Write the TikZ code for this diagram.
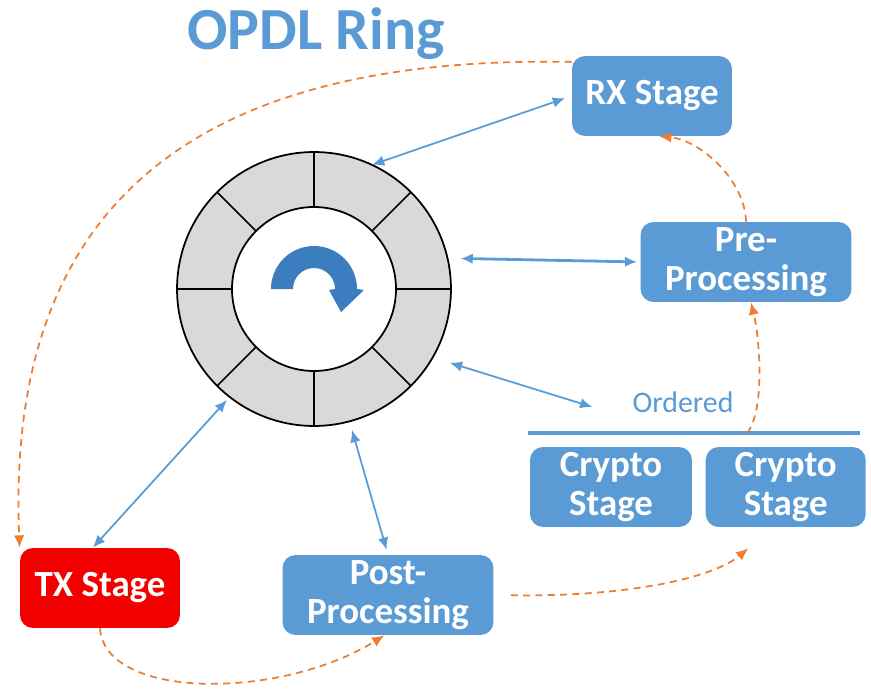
\documentclass[tikz,border=0pt]{standalone}
\usepackage{fontspec}
\setmainfont{Carlito}
\usetikzlibrary{calc}
\usetikzlibrary{arrows.meta,positioning}
\definecolor{opblue}{HTML}{5B9BD5}
\definecolor{opdark}{HTML}{3C7DBF}
\definecolor{oporange}{HTML}{ED7D31}
\definecolor{opred}{HTML}{F20000}
\definecolor{opgray}{HTML}{D9D9D9}

\begin{document}
\begin{tikzpicture}[>={Latex[length=7pt,width=6pt]}, x=0.02cm, y=-0.02cm]
        \tikzset{block/.style= {fill=opblue, rectangle, rounded corners=0.26cm, align=center, text=white,
                font=\fontsize{21}{22.5}\selectfont\bfseries, inner sep=0pt, minimum width=3.2cm, minimum height=1.6cm},
        wblock/.style={block, minimum width=4.22cm},
        rblock/.style={block, fill=opred},
        ringout/.style={draw, circle, fill=opgray, line width=1pt, minimum size=5.48cm, inner sep=0pt, outer sep=0pt},
        hub/.style={draw, circle, fill=white, line width=1pt, minimum size=3.28cm, inner sep=0pt, outer sep=0pt},
        int/.style={font=\fontsize{17}{17}\selectfont, text=opblue},
        link/.style={<->, color=opblue, line width=1pt},
        flow/.style={->, color=oporange, line width=1pt, dash pattern=on 4pt off 3pt},
        }
        \useasboundingbox (0,0) rectangle (871,692);
        \node [anchor=base, text=opblue, font=\fontsize{34}{34}\selectfont\bfseries] (title) at (316,50) {OPDL Ring};
        \node [ringout] (ring) at (314,289) {};
        \node [hub] (hub) at (ring) {};
        \foreach \a in {0,45,...,315}
            \draw [line width=1pt] (hub.\a) -- (ring.\a);
        % turning arrow in the hub
        \begin{scope}[shift={(ring.center)}, yscale=-1]
            \fill [opdark] (-43,0) arc [start angle=180, end angle=0, radius=43] -- (50,-1) -- (27,-23)
                -- (15,-1) -- (21,0) arc [start angle=0, end angle=180, radius=21] -- cycle;
        \end{scope}
        \node [block]  (rx) at (652,96) {RX Stage};
        \node [wblock] (pre) at (746,262) {Pre-\\Processing};
        \node [block, minimum width=3.24cm] (cr1) at (611,487) {Crypto\\Stage};
        \node [block, right=0.26cm of cr1] (cr2) {Crypto\\Stage};
        \node [int] (ord) at (683,402) {Ordered};
        \node [rblock] (tx) at (100,588) {TX Stage};
        \node [wblock] (post) at (388,595) {Post-\\Processing};
        \coordinate (barl) at (528,433);
        \coordinate (barr) at (860,433);
        \draw [opblue, line width=2.3pt] (barl) -- (barr);
%%% paths
        \path [link] (ring.65) edge [shorten >=0.14cm] (rx.west)
                    (ring.13) edge [line width=1.6pt, shorten <=0.26cm, shorten >=0.06cm] (pre.west)
                    (ring.-30) edge [shorten <=0.36cm] ([xshift=-0.68cm, yshift=-0.1cm]ord.west)
                    (ring.232) edge [shorten <=0.08cm] (tx.100)
                    (ring.285) edge [shorten <=0.18cm, shorten >=0.1cm] (post.north)
                    ;
        \draw [flow] (rx.157) .. controls (200,55) and (5,200) .. (tx.north west);
        \draw [flow] (tx.south) .. controls (105,700) and (280,700) .. (post.265);
        \draw [flow, shorten <=0.34cm] (post.east) .. controls (620,597) and (710,580) .. ([shift={(43,21)}]cr2.south west);
        \draw [flow] ($(barl)!0.66!(barr)$) .. controls (765,410) and (760,340) .. (pre.277);
        \draw [flow] (pre.north) .. controls (745,180) and (700,140) .. (rx.280);
    \end{tikzpicture}
\end{document}
